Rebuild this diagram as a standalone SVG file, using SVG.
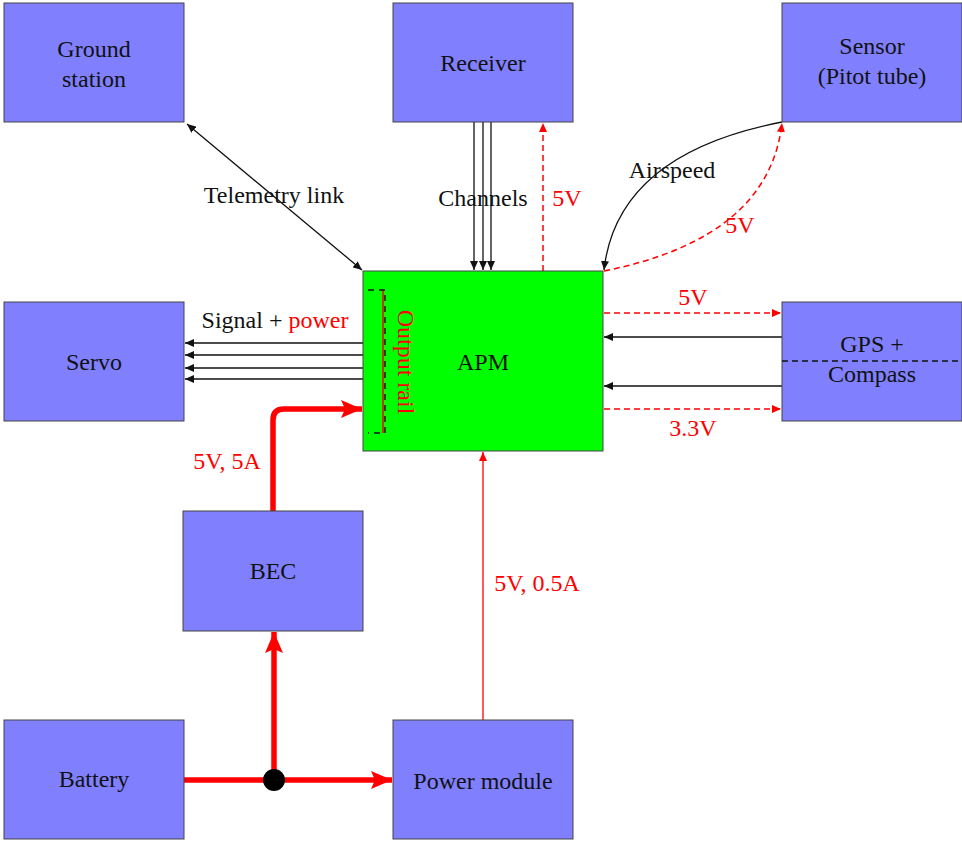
<svg xmlns="http://www.w3.org/2000/svg" width="962" height="843" viewBox="0 0 962 843">
<style>
text{font-family:"Liberation Serif","Times New Roman",serif;font-size:24px;fill:#111;text-anchor:middle}
.red{fill:#ff0000}
.node{fill:#8080ff;stroke:#444;stroke-width:1}
.apm{fill:#00ff00;stroke:#444;stroke-width:1}
.thin{stroke:#111;stroke-width:1.3;fill:none}
.rdash{stroke:#ff0000;stroke-width:1.5;fill:none;stroke-dasharray:6 4}
.rthin{stroke:#ff0000;stroke-width:1.3;fill:none}
.thick{stroke:#ff0000;stroke-width:5.5;fill:none}
</style>
<defs>
<marker id="ab" markerUnits="userSpaceOnUse" markerWidth="10" markerHeight="8" refX="9" refY="4" orient="auto-start-reverse"><path d="M0,0 L9,4 L0,8 Z" fill="#111"/></marker>
<marker id="ar" markerUnits="userSpaceOnUse" markerWidth="10" markerHeight="8" refX="9" refY="4" orient="auto-start-reverse"><path d="M0,0 L9,4 L0,8 Z" fill="#ff0000"/></marker>
<marker id="at" markerUnits="userSpaceOnUse" markerWidth="22" markerHeight="18" refX="21" refY="9" orient="auto"><path d="M0,0 L21,9 L0,18 L4,9 Z" fill="#ff0000"/></marker>
</defs>

<g id="connectors">
  <!-- telemetry -->
  <line class="thin" x1="187" y1="124" x2="362" y2="270" marker-start="url(#ab)" marker-end="url(#ab)"/>
  <!-- channels -->
  <line class="thin" x1="474" y1="122" x2="474" y2="270" marker-end="url(#ab)"/>
  <line class="thin" x1="483" y1="122" x2="483" y2="270" marker-end="url(#ab)"/>
  <line class="thin" x1="491" y1="122" x2="491" y2="270" marker-end="url(#ab)"/>
  <!-- 5V to receiver -->
  <line class="rdash" x1="543" y1="271" x2="543" y2="123" marker-end="url(#ar)"/>
  <!-- airspeed -->
  <path class="thin" d="M782,122 Q617,154 604,270" marker-end="url(#ab)"/>
  <path class="rdash" d="M604,271 Q769,238 782,123" marker-end="url(#ar)"/>
  <!-- servo -->
  <line class="thin" x1="363" y1="343" x2="185" y2="343" marker-end="url(#ab)"/>
  <line class="thin" x1="363" y1="355" x2="185" y2="355" marker-end="url(#ab)"/>
  <line class="thin" x1="363" y1="368" x2="185" y2="368" marker-end="url(#ab)"/>
  <line class="thin" x1="363" y1="379" x2="185" y2="379" marker-end="url(#ab)"/>
  <!-- GPS -->
  <line class="rdash" x1="604" y1="313" x2="781" y2="313" marker-end="url(#ar)"/>
  <line class="thin" x1="782" y1="337" x2="604" y2="337" marker-end="url(#ab)"/>
  <line class="thin" x1="782" y1="386" x2="604" y2="386" marker-end="url(#ab)"/>
  <line class="rdash" x1="604" y1="409" x2="781" y2="409" marker-end="url(#ar)"/>
  <!-- BEC to APM -->
  <path class="thick" d="M273,511 V420 Q273,409 284,409 H362" marker-end="url(#at)"/>
  <!-- power module to APM -->
  <line class="rthin" x1="483" y1="720" x2="483" y2="452" marker-end="url(#ar)"/>
  <!-- battery -->
  <line class="thick" x1="184" y1="780" x2="392" y2="780" marker-end="url(#at)"/>
  <line class="thick" x1="274" y1="780" x2="274" y2="632" marker-end="url(#at)"/>
  <circle cx="274" cy="780" r="11" fill="#000"/>
</g>

<g id="ground-station">
  <rect class="node" x="4" y="3" width="180" height="119"/>
  <text x="94" y="57">Ground</text>
  <text x="94" y="87">station</text>
</g>
<g id="receiver">
  <rect class="node" x="393" y="3" width="180" height="119"/>
  <text x="483" y="71">Receiver</text>
</g>
<g id="sensor">
  <rect class="node" x="782" y="3" width="180" height="119"/>
  <text x="872" y="54">Sensor</text>
  <text x="872" y="84">(Pitot tube)</text>
</g>
<g id="servo">
  <rect class="node" x="4" y="302" width="180" height="119"/>
  <text x="94" y="370">Servo</text>
</g>
<g id="apm">
  <rect class="apm" x="363" y="271" width="240" height="180"/>
  <text x="483" y="370">APM</text>
  <line x1="383" y1="290" x2="383" y2="433" stroke="#ff0000" stroke-width="1.5"/>
  <path d="M368,290 H385 V433 H368" fill="none" stroke="#111" stroke-width="1.5" stroke-dasharray="6 5"/>
  <text class="red" transform="translate(398,362) rotate(90)">Output rail</text>
</g>
<g id="gps">
  <rect class="node" x="782" y="302" width="180" height="119"/>
  <line x1="782" y1="361" x2="962" y2="361" stroke="#111" stroke-width="1.3" stroke-dasharray="6 4"/>
  <text x="872" y="352">GPS +</text>
  <text x="872" y="382">Compass</text>
</g>
<g id="bec">
  <rect class="node" x="183" y="511" width="180" height="120"/>
  <text x="273" y="579">BEC</text>
</g>
<g id="battery">
  <rect class="node" x="4" y="720" width="180" height="119"/>
  <text x="94" y="787">Battery</text>
</g>
<g id="power-module">
  <rect class="node" x="393" y="720" width="180" height="119"/>
  <text x="483" y="789">Power module</text>
</g>

<g id="labels">
  <text x="274" y="203">Telemetry link</text>
  <text x="483" y="206">Channels</text>
  <text class="red" x="567" y="206">5V</text>
  <text x="672" y="178">Airspeed</text>
  <text class="red" x="740" y="233">5V</text>
  <text x="275" y="328">Signal + <tspan class="red">power</tspan></text>
  <text class="red" x="693" y="305">5V</text>
  <text class="red" x="693" y="436">3.3V</text>
  <text class="red" x="227" y="469">5V, 5A</text>
  <text class="red" x="537" y="591">5V, 0.5A</text>
</g>
</svg>
